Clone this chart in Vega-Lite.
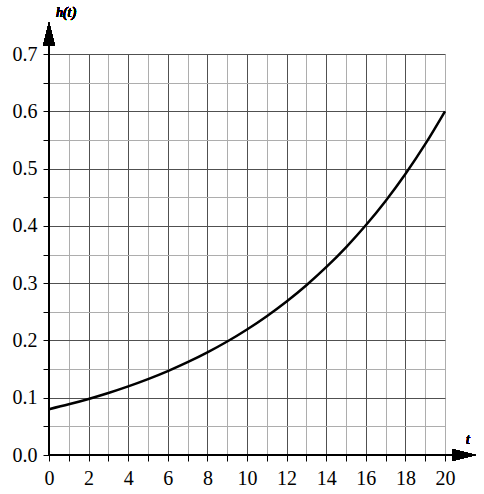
{
  "$schema": "https://vega.github.io/schema/vega-lite/v6.json",
  "width": 396,
  "height": 401,
  "autosize": {"type": "none"},
  "padding": {"left": 49, "top": 54, "right": 39, "bottom": 39},
  "background": "white",
  "config": {
    "view": {"stroke": null},
    "axis": {"labelFont": "Liberation Serif", "labelFontSize": 20, "labelColor": "black"}
  },
  "data": {"values": [
    {"t": 0, "h": 0.0800}, {"t": 1, "h": 0.08848}, {"t": 2, "h": 0.09786}, {"t": 3, "h": 0.10823},
    {"t": 4, "h": 0.11970}, {"t": 5, "h": 0.13239}, {"t": 6, "h": 0.14643}, {"t": 7, "h": 0.16195},
    {"t": 8, "h": 0.17912}, {"t": 9, "h": 0.19810}, {"t": 10, "h": 0.21910}, {"t": 11, "h": 0.24233},
    {"t": 12, "h": 0.26801}, {"t": 13, "h": 0.29642}, {"t": 14, "h": 0.32785}, {"t": 15, "h": 0.36260},
    {"t": 16, "h": 0.40103}, {"t": 17, "h": 0.44354}, {"t": 18, "h": 0.49056}, {"t": 19, "h": 0.54256},
    {"t": 20, "h": 0.6}
  ]},
  "encoding": {
    "x": {
      "field": "t", "type": "quantitative",
      "scale": {"domain": [0, 20], "nice": false, "zero": false},
      "axis": {
        "title": null,
        "values": [0,1,2,3,4,5,6,7,8,9,10,11,12,13,14,15,16,17,18,19,20],
        "labelExpr": "datum.value % 2 === 0 ? datum.label : ''",
        "grid": true,
        "gridColor": {"condition": {"test": "datum.value % 2 === 0 && datum.value < 20", "value": "#505050"}, "value": "#adadad"},
        "gridWidth": 1,
        "domain": false,
        "tickColor": "black",
        "tickSize": 6,
        "tickWidth": 1,
        "labelPadding": 7,
        "labelFlush": false,
        "labelOverlap": false
      }
    },
    "y": {
      "field": "h", "type": "quantitative",
      "scale": {"domain": [0, 0.7], "nice": false},
      "axis": {
        "title": null,
        "values": [0, 0.05, 0.1, 0.15, 0.2, 0.25, 0.3, 0.35, 0.4, 0.45, 0.5, 0.55, 0.6, 0.65, 0.7],
        "format": ".1f",
        "labelExpr": "round(datum.value * 20) % 2 === 0 ? datum.label : ''",
        "grid": true,
        "gridColor": {"condition": {"test": "round(datum.value * 20) % 2 === 0", "value": "#505050"}, "value": "#adadad"},
        "gridWidth": 1,
        "domain": false,
        "tickColor": "black",
        "tickSize": 6,
        "tickWidth": 1,
        "labelPadding": 6,
        "labelFlush": false,
        "labelOverlap": false
      }
    }
  },
  "layer": [
    {
      "mark": {"type": "line", "color": "black", "strokeWidth": 2.5, "interpolate": "monotone"}
    },
    {
      "mark": {"type": "rule", "color": "black", "strokeWidth": 1.5},
      "encoding": {"x": {"datum": 0}, "x2": {"datum": 20.4}, "y": {"datum": 0}}
    },
    {
      "mark": {"type": "rule", "color": "black", "strokeWidth": 1.5},
      "encoding": {"x": {"datum": 0}, "y": {"datum": 0}, "y2": {"datum": 0.715}}
    },
    {
      "mark": {"type": "point", "shape": "M-1,-0.5L1,0L-1,0.5Z", "size": 576, "filled": true, "color": "black", "opacity": 1},
      "encoding": {"x": {"datum": 20.96}, "y": {"datum": 0}}
    },
    {
      "mark": {"type": "point", "shape": "M-0.5,1L0,-1L0.5,1Z", "size": 576, "filled": true, "color": "black", "opacity": 1},
      "encoding": {"x": {"datum": 0}, "y": {"datum": 0.735}}
    },
    {
      "mark": {"type": "text", "text": "h(t)", "font": "Liberation Serif", "fontStyle": "italic", "fontWeight": "normal", "fontSize": 14, "fill": "black", "align": "center", "baseline": "middle"},
      "encoding": {"x": {"datum": 0.86}, "y": {"datum": 0.771}}
    },
    {
      "mark": {"type": "text", "text": "t", "font": "Liberation Serif", "fontStyle": "italic", "fontWeight": "normal", "fontSize": 14, "fill": "black", "align": "center", "baseline": "middle"},
      "encoding": {"x": {"datum": 21.16}, "y": {"datum": 0.026}}
    }
  ]
}
